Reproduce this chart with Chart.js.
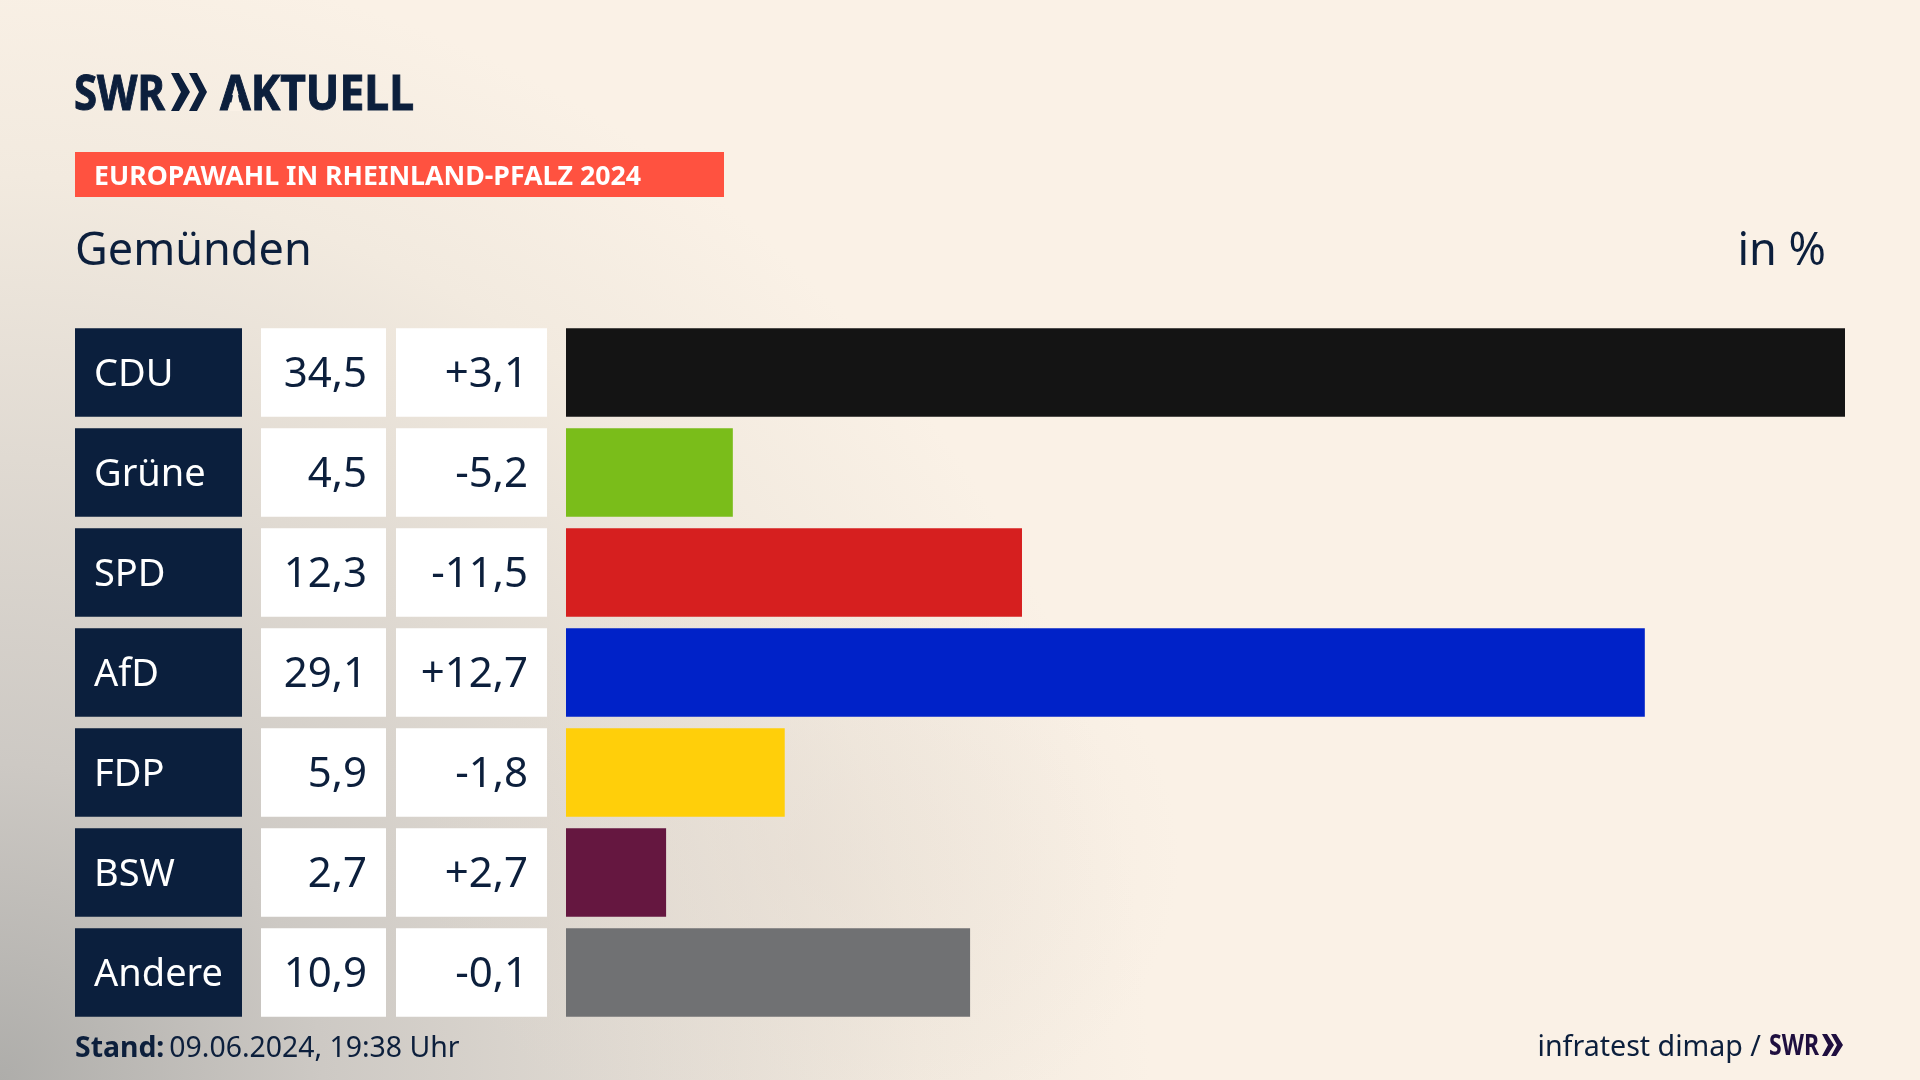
<!DOCTYPE html>
<html lang="de">
<head>
<meta charset="utf-8">
<title>Europawahl in Rheinland-Pfalz 2024 - Gemünden</title>
<script src="https://cdn.jsdelivr.net/npm/chart.js@4"></script>
<style>
  html, body { margin: 0; padding: 0; }
  body {
    position: relative;
    width: 1920px;
    height: 1080px;
    overflow: hidden;
    font-family: "Noto Sans", sans-serif;
    color: #0c1f3c;
    background-color: #faf1e6;
    background-image:
      radial-gradient(ellipse 380px 300px at 800px 860px, rgba(228,218,208,.45), rgba(228,218,208,0) 100%),
      radial-gradient(ellipse 1150px 1130px at 0 1080px, #aeadaa 0%, #cdc9c4 28%, #e0dad2 55%, #f2eadf 80%, #faf1e6 100%);
  }
  #chart { position: absolute; left: 0; top: 0; }
  #logos { position: absolute; left: 0; top: 0; }
  .txt { position: absolute; white-space: nowrap; line-height: 1; }
  #banner { position: absolute; left: 75px; top: 152px; width: 649px; height: 45px; background: #ff5240; }
  #place { left: 75px; top: 225px; font-size: 45px; }
  #unit { right: 94px; top: 225px; font-size: 45px; }
  #stand { left: 75px; top: 1032px; font-size: 28.4px; }
  #stand b { margin-right: 5px; }
  #source { right: 159px; top: 1031px; font-size: 28.6px; }
</style>
</head>
<body>
<div id="banner"></div>
<canvas id="chart" width="1920" height="1080"></canvas>
<svg id="logos" width="1920" height="1080" xmlns="http://www.w3.org/2000/svg">
  <g fill="#0c1f3c" stroke="#0c1f3c" stroke-width="1" font-family="Noto Sans" font-weight="700" font-size="49">
    <text x="74" y="110" textLength="91" lengthAdjust="spacingAndGlyphs">SWR</text>
    <text x="220" y="110" textLength="194" lengthAdjust="spacingAndGlyphs">AKTUELL</text>
  </g>
  <g fill="#0c1f3c">
    <polygon points="171,73 179,73 190,92 179,111 171,111 181,92"/>
    <polygon points="189,73 197,73 207,92 197,111 189,111 199,92"/>
  </g>
  <polygon points="235.5,84 229.5,111 241.5,111" fill="#faf1e6"/>
  <text x="94" y="185" fill="#fff" font-family="Noto Sans" font-weight="700" font-size="27" textLength="547" lengthAdjust="spacingAndGlyphs">EUROPAWAHL IN RHEINLAND-PFALZ 2024</text>
  <g fill="#1f0f3f" font-family="Noto Sans" font-weight="700" font-size="28">
    <text x="1769" y="1055" textLength="50" lengthAdjust="spacingAndGlyphs">SWR</text>
    <polygon points="1822,1034 1827,1034 1834,1045 1827,1056 1822,1056 1828,1045"/>
    <polygon points="1831,1034 1836,1034 1843,1045 1836,1056 1831,1056 1837,1045"/>
  </g>
</svg>
<div class="txt" id="place">Gemünden</div>
<div class="txt" id="unit">in %</div>
<div class="txt" id="stand"><b>Stand:</b>09.06.2024, 19:38 Uhr</div>
<div class="txt" id="source">infratest dimap /</div>

<script>
// Data
const parties = ['CDU', 'Grüne', 'SPD', 'AfD', 'FDP', 'BSW', 'Andere'];
const shares = [34.5, 4.5, 12.3, 29.1, 5.9, 2.7, 10.9];
const changes = [3.1, -5.2, -11.5, 12.7, -1.8, 2.7, -0.1];
const barColors = ['#141414', '#7abd1a', '#d61f1f', '#0022c8', '#ffcf0a', '#651740', '#707173'];

function formatShare(v) {
    return v.toFixed(1).replace('.', ',');
}

function formatChange(v) {
    return (v > 0 ? '+' : '') + formatShare(v);
}

// Table cells left of the bars, one row per category
const tableCells = {
    id: 'tableCells',
    afterDatasetsDraw(chart) {
        const ctx = chart.ctx;
        const yScale = chart.scales.y;
        const bars = chart.getDatasetMeta(0).data;
        ctx.save();
        ctx.textBaseline = 'alphabetic';
        parties.forEach((party, i) => {
            const mid = yScale.getPixelForValue(i);
            const h = bars[i].height;
            const top = mid - h / 2;
            const base = mid + 13;

            ctx.fillStyle = '#0b1f3d';
            ctx.fillRect(75, top, 167, h);
            ctx.fillStyle = '#ffffff';
            ctx.fillRect(261, top, 125, h);
            ctx.fillRect(396, top, 151, h);

            ctx.font = '38px "Noto Sans"';
            ctx.textAlign = 'left';
            ctx.fillText(party, 94, base);

            ctx.font = '42px "Noto Sans"';
            ctx.fillStyle = '#0c1f3c';
            ctx.textAlign = 'right';
            ctx.fillText(formatShare(shares[i]), 367, base + 1);
            ctx.fillText(formatChange(changes[i]), 528, base + 1);
        });
        ctx.restore();
    }
};

// Chart
const ctx = document.getElementById('chart').getContext('2d');
new Chart(ctx, {
    type: 'bar',
    data: {
        labels: parties,
        datasets: [{
            data: shares,
            backgroundColor: barColors,
            borderWidth: 0,
            barPercentage: 0.885,
            categoryPercentage: 1
        }]
    },
    options: {
        indexAxis: 'y',
        responsive: false,
        animation: false,
        layout: {
            padding: { left: 566, right: 75, top: 322.5, bottom: 57.5 }
        },
        scales: {
            x: { display: false, min: 0, max: 34.5 },
            y: { display: false }
        },
        plugins: {
            legend: { display: false },
            tooltip: { enabled: false }
        }
    },
    plugins: [tableCells]
});
</script>
</body>
</html>
